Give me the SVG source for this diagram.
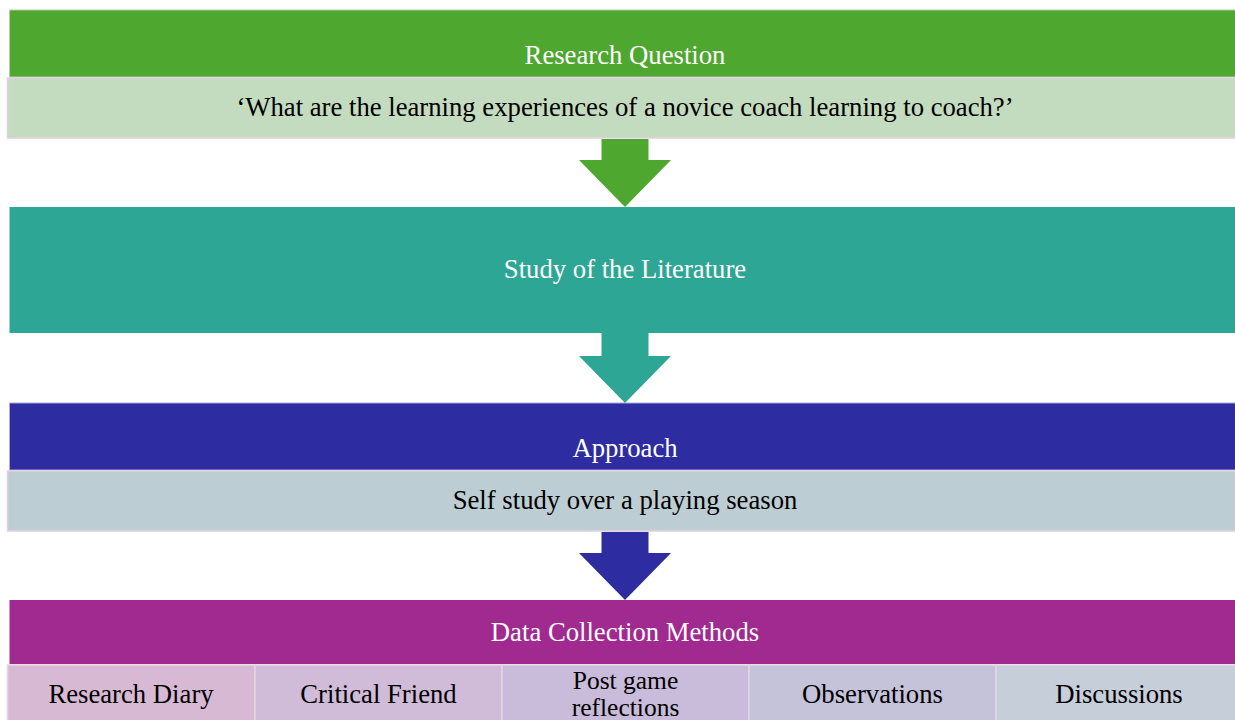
<svg xmlns="http://www.w3.org/2000/svg" width="1235" height="720" viewBox="0 0 1235 720">
  <style>
    text { font-family: "Liberation Serif", "Times New Roman", Times, serif; font-size: 26.7px; text-anchor: middle; }
    .w { fill: #ffffff; }
    .k { fill: #000000; }
    .band { stroke: #E2CFDF; stroke-width: 1.5; }
    .cell { stroke: #E6D3E2; stroke-width: 1.5; }
  </style>

  <!-- Research question -->
  <g id="research-question">
    <rect x="9.5" y="10" width="1226" height="67" fill="#4EA72F" stroke="#B9C9B3" stroke-width="1"/>
    <text class="w" x="625" y="64">Research Question</text>
    <rect class="band" x="7.5" y="78" width="1228" height="60" fill="#C3DCBF"/>
    <text class="k" x="625" y="116">‘What are the learning experiences of a novice coach learning to coach?’</text>
  </g>

  <!-- Literature -->
  <g id="literature">
    <rect x="9.5" y="207" width="1226" height="126" fill="#2EA695"/>
    <text class="w" x="625" y="278">Study of the Literature</text>
  </g>

  <!-- Approach -->
  <g id="approach">
    <rect x="9.5" y="403" width="1226" height="67" fill="#2D2DA1" stroke="#A9AAD6" stroke-width="1"/>
    <text class="w" x="625" y="457">Approach</text>
    <rect class="band" x="7.5" y="471" width="1228" height="60" fill="#BCCED3"/>
    <text class="k" x="625" y="509">Self study over a playing season</text>
  </g>

  <!-- Data collection methods -->
  <g id="data-collection">
    <rect x="9.5" y="600" width="1226" height="64" fill="#A12A90"/>
    <text class="w" x="625" y="641">Data Collection Methods</text>
  </g>
  <g id="research-diary">
    <rect class="cell" x="7.5" y="665" width="247.5" height="60" fill="#D8B9D4"/>
    <text class="k" x="131" y="703">Research Diary</text>
  </g>
  <g id="critical-friend">
    <rect class="cell" x="255" y="665" width="247" height="60" fill="#D0BBD8"/>
    <text class="k" x="378.5" y="703">Critical Friend</text>
  </g>
  <g id="post-game-reflections">
    <rect class="cell" x="502" y="665" width="247" height="60" fill="#C9BCDA"/>
    <text class="k" x="625.5" y="689" style="font-size:25.5px">Post game</text>
    <text class="k" x="625.5" y="716" style="font-size:25.5px">reflections</text>
  </g>
  <g id="observations">
    <rect class="cell" x="749" y="665" width="247" height="60" fill="#C5C3DA"/>
    <text class="k" x="872.5" y="703">Observations</text>
  </g>
  <g id="discussions">
    <rect class="cell" x="996" y="665" width="240" height="60" fill="#C6CEDA"/>
    <text class="k" x="1119" y="703">Discussions</text>
  </g>

  <!-- Block arrows between stages -->
  <g id="connectors">
    <polygon points="601.5,139 648.5,139 648.5,160 671,160 625,207 579,160 601.5,160" fill="#4EA72F"/>
    <polygon points="601.5,333 648.5,333 648.5,356 671,356 625,403 579,356 601.5,356" fill="#2EA695"/>
    <polygon points="601.5,532 648.5,532 648.5,553 671,553 625,600 579,553 601.5,553" fill="#2D2DA1"/>
  </g>
</svg>
